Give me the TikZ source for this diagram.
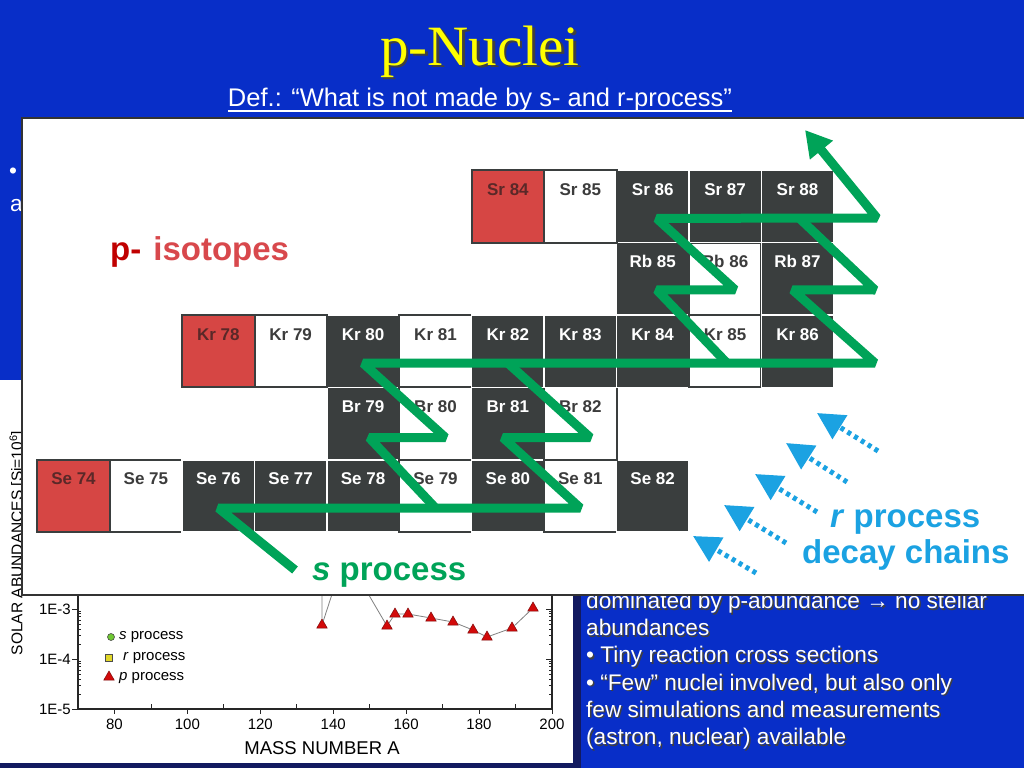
\documentclass[tikz,border=0pt]{standalone}
\usepackage{fontspec}
\setmainfont{Liberation Sans}
\newfontfamily\titlefont{Liberation Serif}
\usepackage{xcolor}
\usetikzlibrary{arrows.meta,shapes.geometric}
\definecolor{slideblue}{RGB}{8,46,200}
\definecolor{slidenavy}{RGB}{18,26,96}
\definecolor{titleyellow}{RGB}{255,255,0}
\definecolor{celldark}{RGB}{58,62,62}
\definecolor{cellred}{RGB}{214,70,68}
\definecolor{celltext}{RGB}{60,60,60}
\definecolor{redtext}{RGB}{90,40,40}
\definecolor{pdark}{RGB}{192,0,0}
\definecolor{plight}{RGB}{216,72,76}
\definecolor{sgreen}{RGB}{0,163,88}
\definecolor{rblue}{RGB}{27,162,226}
\definecolor{tricolor}{RGB}{210,10,10}
\definecolor{sdot}{RGB}{110,200,50}
\definecolor{rsq}{RGB}{225,215,40}

\begin{document}
\begin{tikzpicture}[
    x=1pt, y=-1pt,
    node distance=72.4pt,
    nuclide/.style={rectangle, minimum width=72.4pt, inner ysep=5pt,
                    text height=20pt, text depth=42.4pt,
                    font=\fontsize{17}{20}\selectfont\bfseries},
    stable/.style={nuclide, fill=celldark, draw=white, line width=1.5pt, text=white},
    unstable/.style={nuclide, fill=white, draw=celldark, line width=2pt, text=celltext},
    pnucleus/.style={nuclide, fill=cellred, draw=celldark, line width=2pt, text=redtext},
    spath/.style={draw=sgreen, line width=9pt, line join=bevel},
    rchain/.style={draw=rblue, line width=5pt, dash pattern=on 4pt off 4pt,
                   -{Triangle[length=27pt,width=27pt]}},
    pmark/.style={regular polygon, regular polygon sides=3, fill=tricolor,
                  draw=tricolor!60!black, line width=0.5pt, inner sep=0pt, minimum size=12pt},
    bodytext/.style={text=white, font=\fontsize{22.6}{27.2}\selectfont, align=left, inner sep=0pt},
    axislabel/.style={font=\fontsize{15}{18}\selectfont, inner sep=0pt},
    bigtext/.style={font=\fontsize{33}{40}\selectfont\bfseries, inner sep=0pt, anchor=base west}
]
% slide background
\fill[slideblue] (0,0) rectangle (1024,768);
\useasboundingbox (0,0) rectangle (1024,768);

\node[bodytext, anchor=base west] (hidbullet) at (9,178) {•};
\node[bodytext, anchor=base west] (hidword) at (10,211) {a};

% abundance plot (mostly covered)
\fill[slidenavy] (0,380) rectangle (581,768);
\fill[white] (0,380) rectangle (573,763);
\draw[line width=1.2pt, black!85] (78,560) -- (78,709) -- (552,709) -- (552,560);
\foreach \px/\lab in {114.5/80,187.4/100,260.3/120,333.2/140,406.1/160,479/180,552/200} {
  \draw[line width=1pt, black!85] (\px,709) -- (\px,714);
  \node[axislabel, anchor=north] (xt\lab) at (\px,719) {\lab};
}
\foreach \px in {151,223.8,296.7,369.6,442.5,515.4}
  \draw[line width=1pt, black!85] (\px,709) -- (\px,704);
\foreach \d in {609,659,709} {
  \draw[line width=1pt, black!85] (72,\d) -- (78,\d);
  \draw[line width=1pt, black!85] (546,\d) -- (552,\d);
}
\foreach \d in {659,709}
  \foreach \k in {15.05,23.86,30.1,34.95,38.9,42.25,45.15,47.7} {
    \draw[line width=0.8pt, black!85] (78,\d-\k) -- (81,\d-\k);
    \draw[line width=0.8pt, black!85] (549,\d-\k) -- (552,\d-\k);
  }
\node[axislabel, anchor=east] (yt3) at (71,609) {1E-3};
\node[axislabel, anchor=east] (yt4) at (71,659) {1E-4};
\node[axislabel, anchor=east] (yt5) at (71,709) {1E-5};
\node[font=\fontsize{18.5}{22}\selectfont, inner sep=0pt] (xlabel) at (322,748) {MASS NUMBER A};
\node[font=\fontsize{15.5}{18}\selectfont, inner sep=0pt, rotate=90] (ylabel) at (17.5,543)
  {SOLAR ABUNDANCES [Si=10\textsuperscript{6}]};

\node[circle, fill=sdot, draw=black!70, line width=0.6pt, minimum size=7pt, inner sep=0pt] (lgs) at (111,637) {};
\node[axislabel, anchor=west] (lgstext) at (119,637) {\textit{s} process};
\node[rectangle, fill=rsq, draw=black!70, line width=0.6pt, minimum size=7pt, inner sep=0pt] (lgr) at (109,658) {};
\node[axislabel, anchor=west] (lgrtext) at (123,658) {\textit{r} process};
\node[pmark] (lgp) at (109,677) {};
\node[axislabel, anchor=west] (lgptext) at (119,678) {\textit{p} process};

\coordinate (ptop1) at (322,585);
\coordinate (ptop2) at (335,585);
\coordinate (ptop3) at (363,585);
\node[pmark] (p1) at (322,625) {};
\node[pmark] (p2) at (387,626) {};
\node[pmark] (p3) at (395,614) {};
\node[pmark] (p4) at (408,614) {};
\node[pmark] (p5) at (431,618) {};
\node[pmark] (p6) at (453,622) {};
\node[pmark] (p7) at (473,630) {};
\node[pmark] (p8) at (487,637) {};
\node[pmark] (p9) at (512,628) {};
\node[pmark] (p10) at (533,608) {};
\draw[gray, line width=0.8pt] (ptop1) -- (p1) -- (ptop2);
\draw[gray, line width=0.8pt] (ptop3) -- (p2) -- (p3) -- (p4) -- (p5) -- (p6) -- (p7) -- (p8) -- (p9) -- (p10);

% text on the right
\node[bodytext, anchor=north west, text=black!75] (notesshadow) at (587.5,593.5)
  {dominated by p-abundance → no stellar\\abundances\\• Tiny reaction cross sections\\• “Few” nuclei involved, but also only\\few simulations and measurements\\(astron, nuclear) available};
\node[bodytext, anchor=north west] (notes) at (586,592)
  {dominated by p-abundance → no stellar\\abundances\\• Tiny reaction cross sections\\• “Few” nuclei involved, but also only\\few simulations and measurements\\(astron, nuclear) available};

% chart of nuclides panel
\draw[fill=white, draw=black!80, line width=1.5pt] (22,118) rectangle (1030,595);

\node[pnucleus] (se74) at (73.5,496) {Se 74};
\node[unstable, right of=se74] (se75) {Se 75};
\node[stable, right of=se75] (se76) {Se 76};
\node[stable, right of=se76] (se77) {Se 77};
\node[stable, right of=se77] (se78) {Se 78};
\node[unstable, right of=se78] (se79) {Se 79};
\node[stable, right of=se79] (se80) {Se 80};
\node[unstable, right of=se80] (se81) {Se 81};
\node[stable, right of=se81] (se82) {Se 82};

\node[stable, above of=se78] (br79) {Br 79};
\node[unstable, right of=br79] (br80) {Br 80};
\node[stable, right of=br80] (br81) {Br 81};
\node[unstable, right of=br81] (br82) {Br 82};

\node[stable, above of=br79] (kr80) {Kr 80};
\node[unstable, left of=kr80] (kr79) {Kr 79};
\node[pnucleus, left of=kr79] (kr78) {Kr 78};
\node[unstable, right of=kr80] (kr81) {Kr 81};
\node[stable, right of=kr81] (kr82) {Kr 82};
\node[stable, right of=kr82] (kr83) {Kr 83};
\node[stable, right of=kr83] (kr84) {Kr 84};
\node[unstable, right of=kr84] (kr85) {Kr 85};
\node[stable, right of=kr85] (kr86) {Kr 86};

\node[stable, above of=kr84] (rb85) {Rb 85};
\node[unstable, right of=rb85] (rb86) {Rb 86};
\node[stable, right of=rb86] (rb87) {Rb 87};

\node[stable, above of=rb85] (sr86) {Sr 86};
\node[unstable, left of=sr86] (sr85) {Sr 85};
\node[pnucleus, left of=sr85] (sr84) {Sr 84};
\node[stable, right of=sr86] (sr87) {Sr 87};
\node[stable, right of=sr87] (sr88) {Sr 88};

% s-process path
\coordinate (sfoot) at (295,570);
\coordinate (krturn) at (875,363);
\coordinate (rbturn) at (875,290);
\coordinate (srturn) at (877,218);
\coordinate (stip) at (805,130);
\draw[spath] (sfoot) -- ([shift={(0,12)}]se76.center) -- ([shift={(0,12)}]se81.center)
  -- ([shift={(-5,14)}]br81.center) -- ([shift={(10,14)}]br82.center) -- ([shift={(0,12)}]kr82.center);
\draw[spath] ([shift={(0,12)}]se79.center) -- ([shift={(6,14)}]br79.center) -- ([shift={(10,14)}]br80.center)
  -- ([shift={(0,12)}]kr80.center) -- (krturn) -- ([shift={(-5,11)}]rb87.center) -- (rbturn)
  -- ([shift={(2,12)}]sr88.center);
\draw[spath, -{Triangle[length=26pt,width=28pt]}] ([shift={(2,12)}]kr85.center) -- ([shift={(4,11)}]rb85.center)
  -- ([shift={(10,11)}]rb86.center) -- ([shift={(4,12)}]sr86.center) -- (srturn) -- (stip);

\node[bigtext, text=plight] (pisotopes) at (110,260) {\textcolor{pdark}{p-}\hspace{12pt}isotopes};
\node[bigtext, text=sgreen] (slabel) at (312,580) {\textit{s} process};
\node[bigtext, text=rblue] (rlabel) at (830,527) {\textit{r} process};
\node[bigtext, text=rblue] (decaylabel) at (802,563) {decay chains};

% r-process decay chains
\coordinate (rtail1) at (878,451); \coordinate (rhead1) at (817,413);
\coordinate (rtail2) at (847,482); \coordinate (rhead2) at (786,443);
\coordinate (rtail3) at (817,512); \coordinate (rhead3) at (755,474);
\coordinate (rtail4) at (786,543); \coordinate (rhead4) at (724,505);
\coordinate (rtail5) at (756,573); \coordinate (rhead5) at (693,536);
\draw[rchain] (rtail1) -- (rhead1);
\draw[rchain] (rtail2) -- (rhead2);
\draw[rchain] (rtail3) -- (rhead3);
\draw[rchain] (rtail4) -- (rhead4);
\draw[rchain] (rtail5) -- (rhead5);

% title
\node[font=\titlefont\fontsize{57}{60}\selectfont, text=black!75, anchor=base, inner sep=0pt] (titleshadow) at (482.5,67.5) {p-Nuclei};
\node[font=\titlefont\fontsize{57}{60}\selectfont, text=titleyellow, anchor=base, inner sep=0pt] (title) at (480,65) {p-Nuclei};
\node[font=\fontsize{25.5}{30}\selectfont, text=white, anchor=base, inner sep=0pt] (deftext) at (480,106)
  {Def.: “What is not made by s- and r-process”};
\draw[white, line width=1.5pt] ([yshift=-5pt]deftext.base west) -- ([yshift=-5pt]deftext.base east);
\end{tikzpicture}
\end{document}
